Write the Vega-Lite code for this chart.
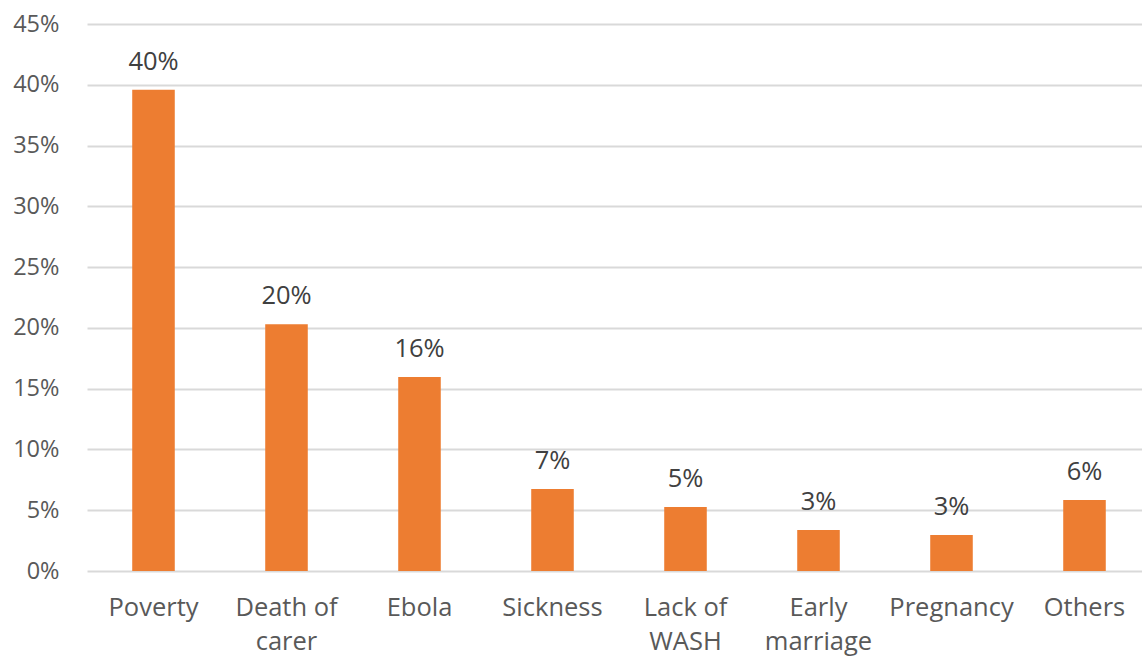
{
  "$schema": "https://vega.github.io/schema/vega-lite/v6.json",
  "width": 1064,
  "height": 547,
  "autosize": {"type": "none"},
  "padding": {"left": 87, "top": 24, "right": 0, "bottom": 86},
  "background": "white",
  "config": {"view": {"stroke": null}, "font": "Open Sans"},
  "data": {
    "values": [
      {"cause": "Poverty", "share": 0.396, "label": "40%"},
      {"cause": "Death of carer", "share": 0.203, "label": "20%"},
      {"cause": "Ebola", "share": 0.1595, "label": "16%"},
      {"cause": "Sickness", "share": 0.0674, "label": "7%"},
      {"cause": "Lack of WASH", "share": 0.0526, "label": "5%"},
      {"cause": "Early marriage", "share": 0.0337, "label": "3%"},
      {"cause": "Pregnancy", "share": 0.0296, "label": "3%"},
      {"cause": "Others", "share": 0.0584, "label": "6%"}
    ]
  },
  "encoding": {
    "x": {
      "field": "cause", "type": "nominal", "sort": null,
      "scale": {"paddingInner": 0.68, "paddingOuter": 0.34},
      "axis": {
        "title": null, "domain": false, "ticks": false, "labelAngle": 0,
        "labelFontSize": 25.5, "labelColor": "#595959", "labelPadding": 24,
        "labelLineHeight": 34, "labelBaseline": "top",
        "labelExpr": "datum.value == 'Death of carer' ? ['Death of', 'carer'] : datum.value == 'Lack of WASH' ? ['Lack of', 'WASH'] : datum.value == 'Early marriage' ? ['Early', 'marriage'] : datum.value"
      }
    },
    "y": {
      "field": "share", "type": "quantitative",
      "scale": {"domain": [0, 0.45], "nice": false},
      "axis": {
        "title": null, "format": ".0%", "values": [0, 0.05, 0.1, 0.15, 0.2, 0.25, 0.3, 0.35, 0.4, 0.45],
        "domain": false, "ticks": false, "labelFontSize": 23.5, "labelColor": "#595959",
        "labelPadding": 28, "gridColor": "#D9D9D9", "gridWidth": 2
      }
    }
  },
  "layer": [
    {"mark": {"type": "bar", "color": "#ED7D31"}},
    {
      "mark": {"type": "text", "baseline": "bottom", "dy": -15, "fontSize": 25.5, "color": "#404040"},
      "encoding": {"text": {"field": "label"}}
    }
  ]
}
